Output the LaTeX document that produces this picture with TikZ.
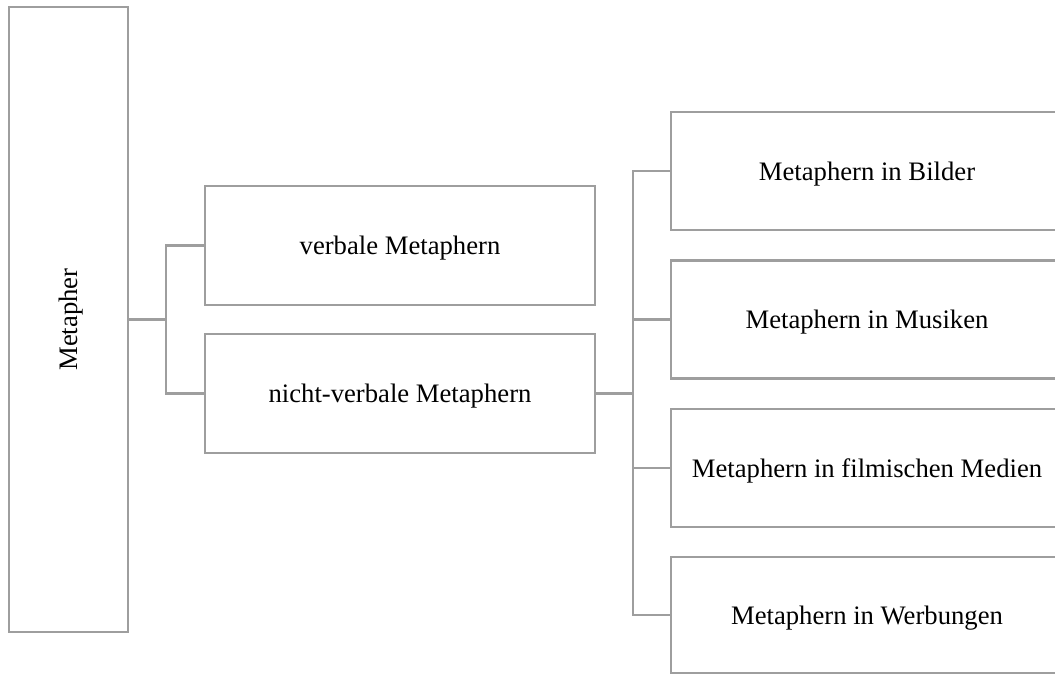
\documentclass[tikz,border=0pt]{standalone}
\usepackage{fontspec}
\setmainfont{Liberation Serif}
\begin{document}
\begin{tikzpicture}[x=0.75pt,y=-0.75pt,
  box/.style={draw=linegray,line width=1.6pt,rectangle,inner sep=0pt,align=center,
    font=\fontsize{20}{24}\selectfont,text=black,text height=18pt,text depth=4.4pt},
  conn/.style={draw=linegray,line width=1.6pt}]
\definecolor{linegray}{HTML}{9E9E9E}
\useasboundingbox (0,0) rectangle (1055,675);
\begin{scope}
\clip (0,0) rectangle (1055,675);
\node[box,minimum width=119*0.75pt,minimum height=625*0.75pt] (m) at (68.5,319.5) {};
\node[rotate=90,inner sep=0pt,font=\fontsize{20}{24}\selectfont,text height=18pt,text depth=4.4pt] (mt) at (m.center) {Metapher};
\node[box,minimum width=390*0.75pt,minimum height=119*0.75pt] (v) at (400,245.5) {verbale Metaphern};
\node[box,minimum width=390*0.75pt,minimum height=119*0.75pt] (n) at (400,393.5) {nicht-verbale Metaphern};
\node[box,minimum width=392*0.75pt,minimum height=118*0.75pt] (b1) at (867,171) {Metaphern in Bilder};
\node[box,minimum width=392*0.75pt,minimum height=118*0.75pt] (b2) at (867,319.5) {Metaphern in Musiken};
\node[box,minimum width=392*0.75pt,minimum height=118*0.75pt] (b3) at (867,468) {Metaphern in filmischen Medien};
\node[box,minimum width=392*0.75pt,minimum height=116*0.75pt] (b4) at (867,615) {Metaphern in Werbungen};
\coordinate (j1) at (166,319.5);
\coordinate (j2) at (633,393.5);
\draw[conn] (m.east) -- (j1);
\draw[conn] (v.west) -| (j1) |- (n.west);
\draw[conn] (n.east) -- (j2);
\draw[conn] (b1.west) -| (j2) |- (b4.west);
\draw[conn] (b2.west) -- (b2.west -| j2);
\draw[conn] (b3.west) -- (b3.west -| j2);
\end{scope}
\end{tikzpicture}
\end{document}
